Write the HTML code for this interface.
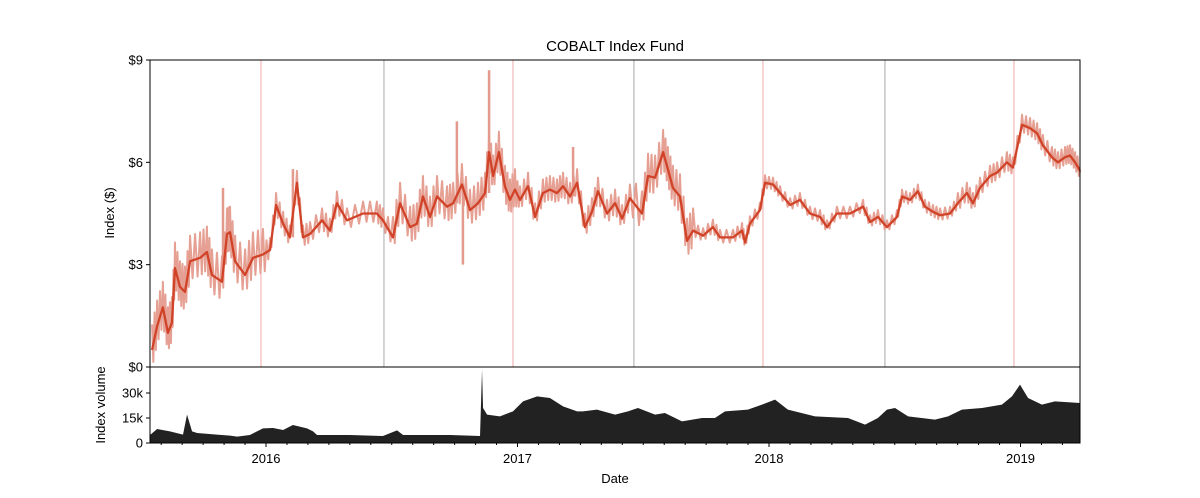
<!DOCTYPE html>
<html><head><meta charset="utf-8"><style>
body{margin:0;background:#fff;}
svg{display:block;font-family:"Liberation Sans",sans-serif;}
</style></head><body>
<svg id="chart" width="1200" height="498" viewBox="0 0 1200 498" xmlns="http://www.w3.org/2000/svg">
<rect width="1200" height="498" fill="#fff"/>
<text x="615" y="51" font-size="15" text-anchor="middle" fill="#000">COBALT Index Fund</text>
<g id="grid"></g>
<g id="raw"></g>
<g id="smooth"></g>
<g id="vol"></g>
<g id="axes"></g>
<text transform="translate(114,213) rotate(-90)" font-size="13" text-anchor="middle">Index ($)</text>
<text transform="translate(105,405) rotate(-90)" font-size="13" text-anchor="middle">Index volume</text>
<text x="615" y="483" font-size="13" text-anchor="middle">Date</text>
</svg>
<script>
const priceDates=[2015.547,2015.567,2015.590,2015.610,2015.626,2015.638,2015.658,2015.678,2015.698,2015.738,2015.765,2015.785,2015.825,2015.845,2015.857,2015.877,2015.917,2015.948,2015.988,2016.016,2016.040,2016.068,2016.095,2016.123,2016.147,2016.175,2016.223,2016.254,2016.282,2016.322,2016.386,2016.441,2016.465,2016.505,2016.533,2016.573,2016.600,2016.624,2016.652,2016.680,2016.720,2016.744,2016.779,2016.811,2016.843,2016.871,2016.887,2016.903,2016.926,2016.950,2016.970,2016.990,2017.010,2017.042,2017.070,2017.101,2017.129,2017.157,2017.181,2017.209,2017.237,2017.268,2017.296,2017.320,2017.356,2017.388,2017.416,2017.447,2017.495,2017.519,2017.547,2017.579,2017.598,2017.618,2017.646,2017.674,2017.698,2017.738,2017.777,2017.805,2017.857,2017.893,2017.905,2017.924,2017.964,2017.984,2018.016,2018.044,2018.084,2018.123,2018.163,2018.203,2018.231,2018.270,2018.322,2018.374,2018.402,2018.433,2018.469,2018.509,2018.529,2018.561,2018.592,2018.620,2018.652,2018.680,2018.720,2018.751,2018.787,2018.811,2018.839,2018.879,2018.907,2018.946,2018.970,2019.006,2019.038,2019.066,2019.089,2019.125,2019.149,2019.177,2019.197,2019.217,2019.237];
const priceValues=[0.5,1.2,1.75,1.0,1.3,2.9,2.35,2.2,3.1,3.2,3.37,2.7,2.5,3.9,3.95,3.1,2.7,3.2,3.3,3.43,4.75,4.2,3.8,5.4,3.8,3.9,4.3,4.0,4.8,4.3,4.5,4.5,4.3,3.8,4.8,4.1,4.2,5.0,4.4,5.0,4.7,4.8,5.35,4.6,4.8,5.1,6.3,5.6,6.3,5.3,4.9,5.2,4.9,5.3,4.4,5.1,5.2,5.1,5.3,5.0,5.4,4.1,4.55,5.15,4.5,4.8,4.35,4.95,4.5,5.6,5.55,6.3,5.8,5.25,5.0,3.7,4.0,3.85,4.1,3.8,3.8,4.0,3.65,4.2,4.6,5.4,5.35,5.1,4.75,4.9,4.5,4.4,4.1,4.5,4.5,4.7,4.25,4.4,4.1,4.4,5.0,4.9,5.15,4.7,4.55,4.45,4.5,4.8,5.1,4.8,5.25,5.6,5.7,6.0,5.85,7.1,7.0,6.85,6.5,6.15,6.0,6.15,6.2,6.0,5.75];
const spreadDates=[2015.5,2016.0,2016.5,2017.0,2017.45,2017.7,2018.0,2018.75,2019.0];
const spreadValues=[0.75,0.35,0.6,0.4,0.65,0.22,0.2,0.3,0.3];
const spikeDates=[2015.829,2016.107,2016.759,2016.783,2016.887,2017.221];
const spikeValues=[5.25,5.8,7.2,3.0,8.7,6.45];
const volDates=[2015.539,2015.567,2015.618,2015.670,2015.686,2015.706,2015.726,2015.805,2015.857,2015.885,2015.936,2015.988,2016.028,2016.068,2016.107,2016.163,2016.187,2016.203,2016.334,2016.465,2016.521,2016.545,2016.732,2016.851,2016.859,2016.863,2016.879,2016.930,2016.982,2017.022,2017.078,2017.129,2017.181,2017.237,2017.260,2017.316,2017.388,2017.439,2017.479,2017.547,2017.586,2017.654,2017.734,2017.785,2017.825,2017.916,2017.972,2018.024,2018.075,2018.183,2018.314,2018.382,2018.433,2018.469,2018.501,2018.553,2018.660,2018.712,2018.767,2018.847,2018.926,2018.966,2018.998,2019.030,2019.085,2019.137,2019.237];
const volValues=[4.8,8.4,7,5,17,7,6,5,4.4,3.8,4.8,8.8,9,7.8,10.8,8.8,7,4.8,4.8,4.2,7.6,4.8,4.8,4.2,44,21,17,16,19,25,28,27,22,19,19,20,17,19,21,17,18,13,15,15,19,20,23,26,20,16,15,11,15,20,21,16,14,16,20,21,23,28,35,27,23,25,24];
const markerDates=[2015.980,2016.469,2016.982,2017.463,2017.976,2018.461,2018.974];
const markerKinds=["red","grey","red","grey","red","grey","red"];
const yTicks=[0,3,6,9];
const yTickLabels=["$0","$3","$6","$9"];
const volTicks=[0,15,30];
const volTickLabels=["0","15k","30k"];
const xTicks=[2016,2017,2018,2019];
const xTickLabels=["2016","2017","2018","2019"];

const NS="http://www.w3.org/2000/svg";
const L=150,R=1080,T=60,B=367,VT=367,VB=443;
const x0=2016,xPx=251.5,xRef=266;
function sx(d){return xRef+(d-x0)*xPx;}
function sy(v){return B-(v/9)*(B-T);}
function sv(k){return VB-k*(25/15);}
function mk(tag,attrs,parent){const e=document.createElementNS(NS,tag);for(const k in attrs)e.setAttribute(k,attrs[k]);parent.appendChild(e);return e;}
function spreadAt(d){let s=spreadValues[0];for(let i=0;i<spreadDates.length;i++){if(d>=spreadDates[i])s=spreadValues[i];}return s;}

const grid=document.getElementById('grid');
markerDates.forEach((d,i)=>{
  const l=mk('line',{x1:sx(d),x2:sx(d),y1:T,y2:B,stroke:markerKinds[i]==="red"?"#eeaaaa":"#a8a8a8","stroke-width":1},grid);
  
  
});

// raw series: jitter around smoothed values with read spread
const raw=document.getElementById('raw');
let pts=[];
const SUB=4;
let sign=1;
for(let i=0;i<priceDates.length-1;i++){
  for(let k=0;k<SUB;k++){
    const f=k/SUB;
    const d=priceDates[i]+(priceDates[i+1]-priceDates[i])*f;
    const v=priceValues[i]+(priceValues[i+1]-priceValues[i])*f;
    const s=spreadAt(d)*(k%2===0?1:0.7);
    pts.push([sx(d),sy(v+sign*s)]);
    sign=-sign;
  }
}
pts.push([sx(priceDates[priceDates.length-1]),sy(priceValues[priceValues.length-1])]);
const rp=mk('polyline',{points:pts.map(p=>p.join(',')).join(' '),fill:"none",stroke:"#e6a093","stroke-width":2,"stroke-linejoin":"round"},raw);


spikeDates.forEach((d,i)=>{
  let j=0;while(j<priceDates.length-1&&priceDates[j+1]<d)j++;
  const s=mk('line',{x1:sx(d),x2:sx(d),y1:sy(priceValues[j]),y2:sy(spikeValues[i]),stroke:"#e39a8d","stroke-width":2.5},raw);
  
  
});

// smoothed
const sm=document.getElementById('smooth');
const sp=mk('polyline',{points:priceDates.map((d,i)=>sx(d)+','+sy(priceValues[i])).join(' '),fill:"none",stroke:"#d04328","stroke-width":2.3,"stroke-linejoin":"round"},sm);



// volume
const vol=document.getElementById('vol');
let vp=[[sx(volDates[0]),VB]];
volDates.forEach((d,i)=>vp.push([sx(d),sv(volValues[i])]));
vp.push([sx(volDates[volDates.length-1]),VB]);
const va=mk('polygon',{points:vp.map(p=>p.join(',')).join(' '),fill:"#222"},vol);



// axes
const ax=document.getElementById('axes');
const f1=mk('rect',{x:L,y:T,width:R-L,height:B-T,fill:"none",stroke:"#000","stroke-width":1},ax);


const f2=mk('rect',{x:L,y:VT,width:R-L,height:VB-VT,fill:"none",stroke:"#000","stroke-width":1},ax);


yTicks.forEach((v,i)=>{
  mk('line',{x1:L-4,x2:L,y1:sy(v),y2:sy(v),stroke:"#000"},ax);
  const t=mk('text',{x:L-7,y:sy(v)+4.5,"font-size":13,"text-anchor":"end"},ax);
  t.textContent=yTickLabels[i];
  
  
});
volTicks.forEach((v,i)=>{
  mk('line',{x1:L-4,x2:L,y1:sv(v),y2:sv(v),stroke:"#000"},ax);
  const t=mk('text',{x:L-7,y:sv(v)+4.5,"font-size":13,"text-anchor":"end"},ax);
  t.textContent=volTickLabels[i];
  
  
});
for(let m=Math.ceil((2015.54)*12);m<=Math.floor(2019.237*12);m++){
  const d=m/12, x=sx(d);
  if(x<L||x>R)continue;
  mk('line',{x1:x,x2:x,y1:VB,y2:VB+2,stroke:"#000"},ax);
}
xTicks.forEach((d,i)=>{
  mk('line',{x1:sx(d),x2:sx(d),y1:VB,y2:VB+4,stroke:"#000"},ax);
  const t=mk('text',{x:sx(d),y:VB+20,"font-size":13,"text-anchor":"middle"},ax);
  t.textContent=xTickLabels[i];
  
  
});
</script>
</body></html>
